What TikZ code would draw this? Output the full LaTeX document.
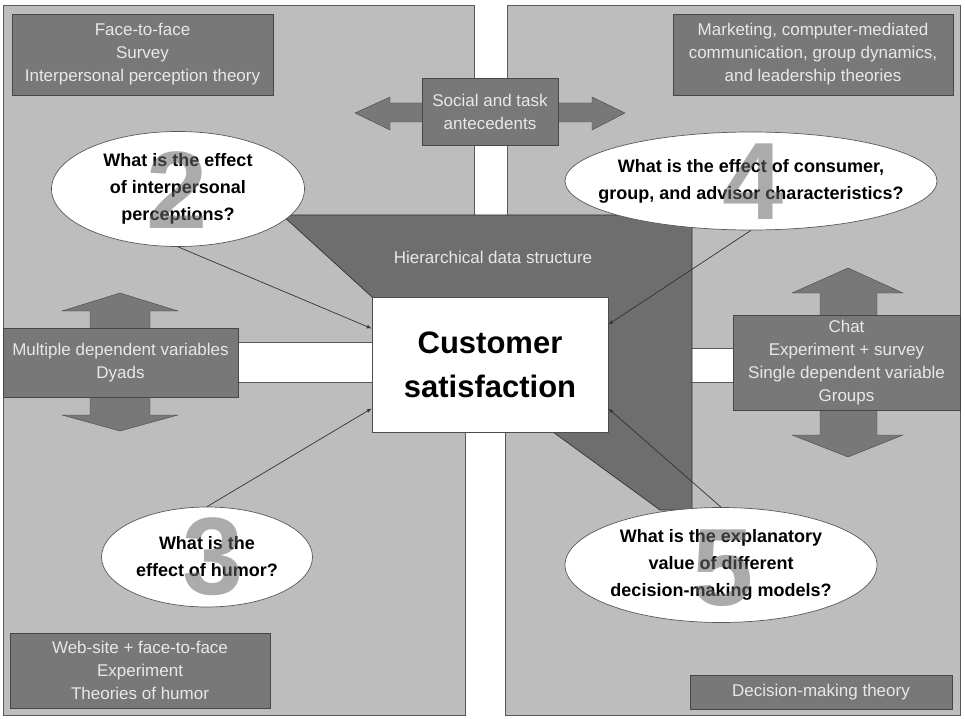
\documentclass[tikz,border=0pt]{standalone}
\usepackage{fontspec}
\setmainfont{Liberation Sans}
\usetikzlibrary{shapes.geometric}

\definecolor{panelgray}{gray}{0.74}
\definecolor{boxgray}{gray}{0.47}
\definecolor{hiergray}{gray}{0.43}
\definecolor{boxtext}{gray}{0.91}

\begin{document}
\begin{tikzpicture}[x=1pt,y=-1pt,
  panel/.style={fill=panelgray,draw=gray!70!black,line width=0.7pt},
  darkbox/.style={rectangle,fill=boxgray,draw=gray!55!black,line width=0.7pt,text=boxtext,
    font=\fontsize{17}{23}\selectfont,align=center,inner sep=0pt},
  question/.style={ellipse,fill=white,draw=black!65,line width=0.7pt,inner sep=0pt},
  qtext/.style={font=\bfseries\fontsize{18}{27}\selectfont,align=center,inner sep=0pt},
  bignum/.style={text=black!60,text opacity=0.55,font=\bfseries\fontsize{110}{110}\selectfont},
  link/.style={-latex,black!80,line width=0.7pt}]
\useasboundingbox (0,0) rectangle (965,719);
\fill[white] (0,0) rectangle (965,719);

% the four panels
\draw[panel] (3,5) rectangle (474,342);
\draw[panel] (507,5) rectangle (960,348);
\draw[panel] (3,382) rectangle (465,715);
\draw[panel] (505,382) rectangle (960,715);

% double arrows
\draw[fill=boxgray,draw=gray!55!black] (355,113) -- (390,97) -- (390,103) -- (592,103) -- (592,97) -- (625,113)
  -- (592,130) -- (592,122) -- (390,122) -- (390,130) -- cycle; % social
\draw[fill=boxgray,draw=gray!55!black] (120,293) -- (178,311) -- (150,311) -- (150,415) -- (178,415) -- (120,431)
  -- (62,415) -- (90,415) -- (90,311) -- (62,311) -- cycle; % left
\draw[fill=boxgray,draw=gray!55!black] (848,268) -- (903,293) -- (877,293) -- (877,435) -- (903,435) -- (848,457)
  -- (792,435) -- (820,435) -- (820,293) -- (792,293) -- cycle; % right

% hierarchical data structure
\draw[fill=hiergray,draw=gray!40!black,line width=0.7pt] (282,215) -- (692,215) -- (692,510) -- (660,510)
  -- (553,432) -- (372,297) -- cycle;
\node[text=boxtext,font=\fontsize{17}{23}\selectfont] (hier) at (493,257) {Hierarchical data structure};

% method and theory boxes
\node[darkbox,minimum width=261pt,minimum height=81pt] (tl) at (142.5,54.5)
  {Face-to-face\\Survey\\Interpersonal perception theory};
\node[darkbox,minimum width=280pt,minimum height=81pt] (tr) at (813,54.5)
  {Marketing, computer-mediated\\communication, group dynamics,\\and leadership theories};
\node[darkbox,minimum width=136pt,minimum height=67pt] (social) at (490,111.5)
  {Social and task\\antecedents};
\node[darkbox,minimum width=235pt,minimum height=69pt] (dyads) at (120.5,362.5)
  {Multiple dependent variables\\Dyads};
\node[darkbox,minimum width=227pt,minimum height=95pt] (chat) at (846.5,362.5)
  {Chat\\Experiment + survey\\Single dependent variable\\Groups};
\node[darkbox,minimum width=260pt,minimum height=75pt] (bl) at (140,670.5)
  {Web-site + face-to-face\\Experiment\\Theories of humor};
\node[darkbox,minimum width=262pt,minimum height=34pt] (br) at (821,692)
  {Decision-making theory};

% centre
\node[rectangle,fill=white,draw=black!70,line width=0.7pt,minimum width=236pt,minimum height=135pt,
  font=\bfseries\fontsize{31}{44}\selectfont,align=center] (cs) at (490,364.5) {Customer\\satisfaction};

% questions
\node[question,minimum width=253pt,minimum height=115pt] (q2) at (178,189) {};
\node[question,minimum width=372pt,minimum height=98pt] (q4) at (751,181) {};
\node[question,minimum width=211pt,minimum height=100pt] (q3) at (207,557) {};
\node[question,minimum width=312pt,minimum height=115pt] (q5) at (721,565) {};
\node[qtext] (t2) at (q2) {What is the effect\\of interpersonal\\perceptions?};
\node[qtext] (t4) at (q4) {What is the effect of consumer,\\group, and advisor characteristics?};
\node[qtext] (t3) at (q3) {What is the\\effect of humor?};
\node[qtext] (t5) at (q5) {What is the explanatory\\value of different\\decision-making models?};
\node[bignum] (n2) at (177,190) {2};
\node[bignum] (n4) at (753,182) {4};
\node[bignum] (n3) at (213,557) {3};
\node[bignum] (n5) at (723,568) {5};

% links
\draw[link] (q2.south) -- ([yshift=36pt]cs.west);
\draw[link] (q4.south) -- ([yshift=40pt]cs.east);
\draw[link] (q3.north) -- ([yshift=-44pt]cs.west);
\draw[link] (q5.north) -- ([yshift=-44pt]cs.east);
\end{tikzpicture}
\end{document}
